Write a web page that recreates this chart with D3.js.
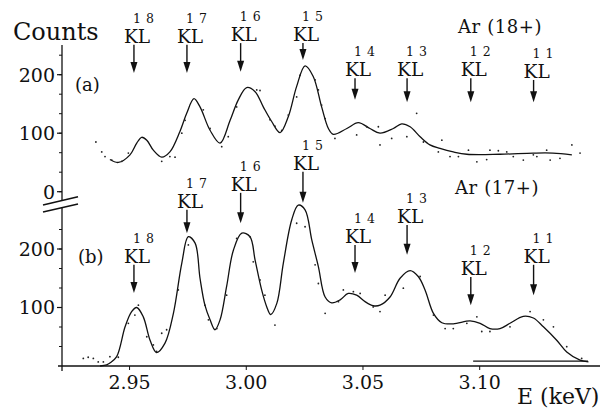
<!DOCTYPE html>
<html><head><meta charset="utf-8">
<script src="https://cdn.jsdelivr.net/npm/d3@7"></script>
<style>
html,body{margin:0;padding:0;background:#fff;}
svg{display:block;}
text{font-family:"DejaVu Serif","Liberation Serif",serif;fill:#111;}
</style></head>
<body>
<svg id="c" width="605" height="410"></svg>
<script>
// ---------- data ----------
const xTicks = [2.95, 3.00, 3.05, 3.10];
const yTicksA = [0, 100, 200];
const yTicksB = [100, 200];
const lineE = [2.9521, 2.9748, 2.9978, 3.0245, 3.0468, 3.0691, 3.0964, 3.1233];
const lineLabels = ["18", "17", "16", "15", "14", "13", "12", "11"];
// arrow anchor values (counts) for each panel
const arrowTopA = [251, 251, 254, 254, 194, 194, 194, 191];
const arrowTipA = [203, 203, 205, 225, 157, 153, 153, 153];
const arrowTopB = [173, 267, 296, 332, 207, 241, 152, 173];
const arrowTipB = [125, 227, 244, 279, 159, 190, 104, 121];

// panel (a) Ar(18+) fitted curve
const curveAE = [2.9418,2.9454,2.9504,2.9533,2.9554,2.9576,2.9604,2.9640,2.9675,2.9718,2.9747,2.9778,2.9804,2.9847,2.9890,2.9933,2.9968,3.0004,3.0040,3.0075,3.0111,3.0147,3.0182,3.0218,3.0254,3.0289,3.0325,3.0354,3.0375,3.0433,3.0482,3.0532,3.0575,3.0632,3.0668,3.0704,3.0747,3.0789,3.0832,3.0889,3.0947,3.1089,3.1232,3.1316,3.1397];
const curveAV = [55,50,63,83,93,88,71,59,68,103,134,159,145,105,83,122,157,178,171,145,120,101,128,180,215,197,145,108,98,108,118,108,100,108,116,111,94,80,74,68,64,64,66,66,63];
// panel (a) measured points
const dotsAE = [2.9358,2.9383,2.9397,2.9426,2.9469,2.9497,2.9640,2.9675,2.9697,2.9726,2.9740,2.9818,2.9847,2.9897,2.9925,2.9961,3.0047,3.0061,3.0104,3.0125,3.0154,3.0182,3.0218,3.0232,3.0297,3.0311,3.0325,3.0340,3.0382,3.0475,3.0518,3.0568,3.0575,3.0625,3.0690,3.0732,3.0761,3.0825,3.0840,3.0875,3.0911,3.0954,3.0990,3.1032,3.1046,3.1082,3.1118,3.1146,3.1189,3.1232,3.1247,3.1289,3.1304,3.1346,3.1397,3.1432];
const dotsAV = [85,68,60,54,52,66,52,60,59,100,122,140,108,77,94,145,174,173,123,112,105,131,162,199,191,174,148,125,91,97,111,111,80,91,94,134,85,68,88,60,60,71,51,55,71,70,68,60,54,63,60,71,54,57,80,66];

// panel (b) Ar(17+) fitted curve
const curveBE = [2.9376,2.9404,2.9418,2.9447,2.9483,2.9511,2.9533,2.9561,2.9590,2.9618,2.9654,2.9690,2.9726,2.9754,2.9783,2.9804,2.9825,2.9847,2.9868,2.9890,2.9918,2.9947,2.9983,3.0018,3.0040,3.0068,3.0090,3.0107,3.0133,3.0161,3.0197,3.0225,3.0254,3.0283,3.0311,3.0340,3.0368,3.0404,3.0439,3.0475,3.0511,3.0546,3.0575,3.0618,3.0661,3.0704,3.0739,3.0768,3.0804,3.0840,3.0889,3.0961,3.1004,3.1046,3.1089,3.1132,3.1189,3.1232,3.1275,3.1332,3.1375,3.1432,3.1468];
const curveBV = [0,2,5,16,67,93,100,84,44,23,39,90,176,221,210,150,104,79,62,79,136,198,227,221,181,130,101,88,107,176,250,275,267,215,170,118,108,113,124,121,110,103,104,118,150,163,153,130,90,74,72,77,73,64,64,73,85,82,67,44,24,10,7];
// panel (b) measured points
const dotsBE = [2.9304,2.9325,2.9347,2.9368,2.9390,2.9418,2.9454,2.9497,2.9525,2.9540,2.9576,2.9604,2.9618,2.9640,2.9661,2.9711,2.9754,2.9825,2.9840,2.9876,2.9918,2.9961,3.0018,3.0032,3.0061,3.0082,3.0125,3.0218,3.0254,3.0297,3.0311,3.0340,3.0397,3.0418,3.0461,3.0490,3.0546,3.0575,3.0597,3.0675,3.0747,3.0804,3.0854,3.0889,3.0947,3.0990,3.1011,3.1046,3.1132,3.1218,3.1275,3.1318,3.1375,3.1439];
const dotsBV = [13,15,13,7,7,16,15,73,87,104,50,36,25,56,62,130,207,104,79,64,121,218,221,178,147,121,70,244,238,173,141,90,110,130,127,124,101,93,121,133,153,87,64,64,73,84,59,59,67,93,79,67,33,13];
// panel (b) background level segment
const bgE = [3.0974, 3.1466];
const bgV = [8.5, 8.5];

// ---------- layout ----------
const svg = d3.select("#c");
const x = d3.scaleLinear().domain([2.95, 3.10]).range([129.05, 479.2]);
const yA = d3.scaleLinear().domain([0, 200]).range([191.7, 74.7]);
const yB = d3.scaleLinear().domain([0, 200]).range([366, 249]);
const axX = 62;
const ink = "#111";

// y axis line (broken)
svg.append("line").attr("x1", axX).attr("x2", axX).attr("y1", 45).attr("y2", 200.5)
  .attr("stroke", ink).attr("stroke-width", 1.3);
svg.append("line").attr("x1", axX).attr("x2", axX).attr("y1", 207.5).attr("y2", 371)
  .attr("stroke", ink).attr("stroke-width", 1.3);
// break marks
svg.append("line").attr("x1", 43).attr("y1", 205).attr("x2", 78).attr("y2", 196.7).attr("stroke", ink).attr("stroke-width", 1.5);
svg.append("line").attr("x1", 43).attr("y1", 212).attr("x2", 78).attr("y2", 204).attr("stroke", ink).attr("stroke-width", 1.5);

// y ticks
function yTicks(scale, majors, minorsMax, minorsMin) {
  const minors = d3.range(minorsMin, minorsMax + 0.1, 100 / 3);
  minors.forEach(v => {
    svg.append("line").attr("x1", axX - 3).attr("x2", axX).attr("y1", scale(v)).attr("y2", scale(v))
      .attr("stroke", ink).attr("stroke-width", 1);
  });
  majors.forEach(v => {
    svg.append("line").attr("x1", axX - 5).attr("x2", axX).attr("y1", scale(v)).attr("y2", scale(v))
      .attr("stroke", ink).attr("stroke-width", 1.2);
    svg.append("text").attr("x", axX - 7).attr("y", scale(v)).attr("dy", "0.36em")
      .attr("text-anchor", "end").attr("font-size", 19).text(v);
  });
}
yTicks(yA, yTicksA, 234, 0);
yTicks(yB, yTicksB, 234, 100 / 3);

// x axis
const xAxis = d3.axisBottom(x).tickValues(xTicks).tickFormat(d3.format(".2f")).tickSize(4).tickPadding(6);
const gx = svg.append("g").attr("transform", `translate(0,${yB(0)})`).call(xAxis);
gx.select(".domain").remove();
gx.selectAll("line").attr("stroke", ink);
gx.selectAll("text").attr("font-size", 19).attr("font-family", "DejaVu Serif, serif").attr("fill", ink);
svg.append("line").attr("x1", 58).attr("x2", 600).attr("y1", yB(0)).attr("y2", yB(0))
  .attr("stroke", ink).attr("stroke-width", 1.3);

// curves
const lineA = d3.line().x((d, i) => x(curveAE[i])).y(d => yA(d)).curve(d3.curveCatmullRom.alpha(0.5));
const lineB = d3.line().x((d, i) => x(curveBE[i])).y(d => yB(d)).curve(d3.curveCatmullRom.alpha(0.5));
svg.append("path").attr("d", lineA(curveAV)).attr("fill", "none").attr("stroke", ink).attr("stroke-width", 1.3);
svg.append("path").attr("d", lineB(curveBV)).attr("fill", "none").attr("stroke", ink).attr("stroke-width", 1.3);

// background segment
svg.append("line").attr("x1", x(bgE[0])).attr("x2", x(bgE[1])).attr("y1", yB(bgV[0])).attr("y2", yB(bgV[1]))
  .attr("stroke", ink).attr("stroke-width", 1.2);

// dots
svg.append("g").selectAll("circle").data(dotsAV).join("circle")
  .attr("cx", (d, i) => x(dotsAE[i])).attr("cy", d => yA(d)).attr("r", 0.9).attr("fill", "#222");
svg.append("g").selectAll("circle").data(dotsBV).join("circle")
  .attr("cx", (d, i) => x(dotsBE[i])).attr("cy", d => yB(d)).attr("r", 0.9).attr("fill", "#222");

// arrows and labels
function arrows(scale, tops, tips) {
  lineE.forEach((e, i) => {
    const ax = x(e), yt = scale(tops[i]), yp = scale(tips[i]);
    svg.append("line").attr("x1", ax).attr("x2", ax).attr("y1", yt).attr("y2", yp - 8)
      .attr("stroke", ink).attr("stroke-width", 1.4);
    svg.append("path").attr("d", `M${ax - 3.5},${yp - 11}L${ax + 3.5},${yp - 11}L${ax},${yp}Z`).attr("fill", ink);
    const bx = ax - 10, by = yt - 2;
    svg.append("text").attr("x", bx).attr("y", by).attr("font-size", 18.5).text("KL");
    svg.append("text").attr("x", bx + 13).attr("y", by - 20).attr("font-size", 12.5)
      .attr("text-anchor", "middle").text(lineLabels[i][0]);
    svg.append("text").attr("x", bx + 26).attr("y", by - 20).attr("font-size", 12.5)
      .attr("text-anchor", "middle").text(lineLabels[i][1]);
  });
}
arrows(yA, arrowTopA, arrowTipA);
arrows(yB, arrowTopB, arrowTipB);

// texts
svg.append("text").attr("x", 13).attr("y", 40).attr("font-size", 24).text("Counts");
svg.append("text").attr("x", 75).attr("y", 91).attr("font-size", 18).text("(a)");
svg.append("text").attr("x", 78).attr("y", 263).attr("font-size", 18).text("(b)");
svg.append("text").attr("x", 458).attr("y", 33).attr("font-size", 18).attr("letter-spacing", 0.6).text("Ar (18+)");
svg.append("text").attr("x", 455).attr("y", 194).attr("font-size", 18).attr("letter-spacing", 0.6).text("Ar (17+)");
svg.append("text").attr("x", 517).attr("y", 404).attr("font-size", 22).text("E (keV)");
</script>
</body></html>
